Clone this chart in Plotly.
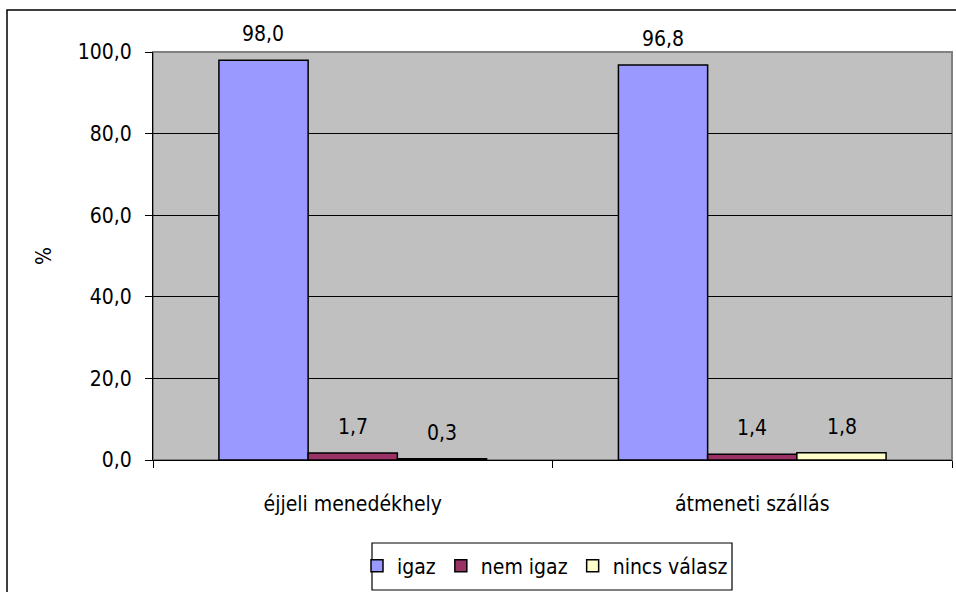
import plotly.graph_objects as go

categories = ["éjjeli menedékhely", "átmeneti szállás"]
series_names = ["igaz", "nem igaz", "nincs válasz"]
igaz = [98.0, 96.8]
nem_igaz = [1.7, 1.4]
nincs_valasz = [0.3, 1.8]
colors = ["#9999FF", "#993366", "#FFFFCC"]
y_ticks = [0, 20, 40, 60, 80, 100]

FONT = "DejaVu Sans Condensed, Liberation Sans Narrow, Arial Narrow, sans-serif"
FS = 21

def fmt(v):
    return f"{v:.1f}".replace(".", ",")

fig = go.Figure()
all_series = [igaz, nem_igaz, nincs_valasz]
for name, vals, col in zip(series_names, all_series, colors):
    fig.add_trace(go.Bar(
        name=name, x=categories, y=vals,
        marker=dict(color=col, line=dict(color="black", width=1.5)),
        cliponaxis=False,
    ))

L, R, T, B = 153, 4, 52, 132
W, H = 956, 592
pw, ph = W - L - R, H - T - B
BARW = 89.3

for i, vals in enumerate(all_series):
    for cat, v in zip(categories, vals):
        fig.add_annotation(x=cat, y=v, xref="x", yref="y", text=fmt(v),
                           showarrow=False, yanchor="bottom", xanchor="center",
                           xshift=(i - 1) * BARW, yshift=12,
                           font=dict(family=FONT, size=FS, color="black"))

fig.update_layout(
    width=W, height=H,
    margin=dict(l=L, r=R, t=T, b=B, pad=0),
    paper_bgcolor="white", plot_bgcolor="#C0C0C0",
    separators=", ",
    barmode="group", bargap=0.33, bargroupgap=0,
    font=dict(family=FONT, size=FS, color="black"),
    showlegend=True,
    legend=dict(orientation="h", x=(545 - L) / pw, xanchor="center", y=-(566 - 460) / ph, yanchor="middle",
                borderwidth=0, bgcolor="rgba(0,0,0,0)",
                font=dict(family=FONT, size=FS), traceorder="normal",
                itemwidth=30),
)
fig.update_xaxes(
    showline=True, linecolor="black", linewidth=1,
    ticks="outside", tickson="boundaries", ticklen=7, tickcolor="black",
    ticklabelstandoff=25, showgrid=False,
    tickfont=dict(family=FONT, size=FS),
)
fig.update_yaxes(
    range=[0, 100], tickvals=y_ticks, tickformat=".1f",
    showline=True, linecolor="black", linewidth=1,
    ticks="outside", ticklen=7, tickcolor="black",
    ticklabelstandoff=9,
    showgrid=True, gridcolor="black", gridwidth=1,
    zeroline=False,
    tickfont=dict(family=FONT, size=FS),
    title=dict(text="%", standoff=20, font=dict(family=FONT, size=FS)),
)
# plot area border (gray)
fig.add_shape(type="rect", xref="paper", yref="paper", x0=0, y0=0, x1=1, y1=1,
              line=dict(color="#808080", width=2), layer="below")
# legend box
fig.add_shape(type="rect", xref="paper", yref="paper",
              x0=(372 - L) / pw, x1=(732 - L) / pw,
              y0=-(590 - T - ph) / ph, y1=-(543 - T - ph) / ph,
              line=dict(color="#000000", width=1.2), layer="above")
# outer chart border
fig.add_shape(type="rect", xref="paper", yref="paper",
              x0=(7 - L) / pw, x1=(965 - L) / pw,
              y0=-(H + 10 - T - ph) / ph, y1=1 + (T - 10) / ph,
              line=dict(color="black", width=1.5), layer="above")

fig.write_html("out.html", config={"displayModeBar": False},
               post_script="document.body.style.margin='0';document.body.style.overflow='hidden';")
